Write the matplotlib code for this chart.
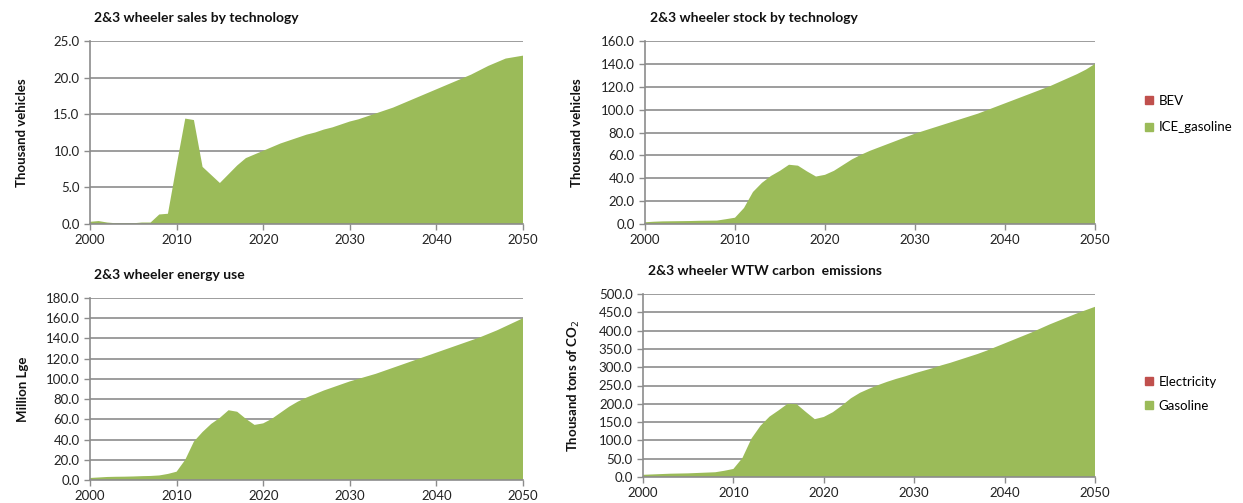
import matplotlib
matplotlib.use("Agg")
from matplotlib import pyplot as plt
from matplotlib.patches import Patch

years = list(range(2000, 2051))

sales_ice = [0.3, 0.4, 0.2, 0.1, 0.1, 0.1, 0.2, 0.2, 1.3, 1.4,
             8.0, 14.4, 14.2, 7.8, 6.7, 5.6, 6.8, 8.0, 9.0, 9.5,
             10.0, 10.5, 11.0, 11.4, 11.8, 12.2, 12.5, 12.9, 13.2, 13.6,
             14.0, 14.3, 14.7, 15.1, 15.5, 15.9, 16.4, 16.9, 17.4, 17.9,
             18.4, 18.9, 19.4, 19.9, 20.4, 21.0, 21.6, 22.1, 22.6, 22.8,
             23.0]
sales_bev = [0.0] * len(years)

stock_ice = [1.5, 2.0, 2.3, 2.4, 2.5, 2.6, 2.8, 2.9, 3.0, 4.2,
             5.5, 14.0, 28.0, 36.0, 42.0, 46.5, 51.8, 51.0, 46.0, 41.5,
             43.0, 46.5, 51.5, 56.5, 60.5, 64.0, 67.0, 70.0, 73.0, 76.0,
             79.0, 81.5, 84.0, 86.5, 89.0, 91.5, 94.0, 96.5, 99.5, 102.5,
             105.5, 108.5, 111.5, 114.5, 117.5, 120.5, 124.0, 127.5, 131.0, 135.0,
             140.0]
stock_bev = [0.0] * len(years)

energy_gasoline = [2.0, 2.5, 3.0, 3.2, 3.3, 3.5, 3.8, 4.0, 4.5, 6.0,
                   8.2, 20.0, 38.0, 47.5, 55.5, 61.5, 69.0, 67.5, 60.5, 54.5,
                   56.0, 60.5, 66.5, 72.5, 77.5, 81.5, 85.0, 88.5, 91.5, 94.5,
                   97.5, 100.0, 102.5, 105.0, 108.0, 111.0, 114.0, 117.0, 120.0, 123.0,
                   126.0, 129.0, 132.0, 135.0, 138.0, 141.0, 144.5, 148.0, 152.0, 156.0,
                   160.0]
energy_electricity = [0.0] * len(years)

co2_gasoline = [6, 7, 8, 9, 9.5, 10, 11, 12, 13, 17,
                22, 52, 105, 140, 165, 182, 200, 199, 178, 158,
                164, 177, 195, 215, 230, 241, 251, 260, 268, 275,
                283, 290, 297, 305, 312, 320, 328, 336, 345, 355,
                365, 375, 385, 395, 406, 417, 427, 437, 447, 456,
                465]
co2_electricity = [0.0] * len(years)

GREEN = "#9BBB59"
RED = "#C0504D"
GRID = "#8C8C8C"

plt.rcParams["font.family"] = ["Lato", "DejaVu Sans"]

W, H = 1243, 503
fig = plt.figure(figsize=(W / 100, H / 100), dpi=100)


def px_axes(x0, x1, y0, y1):
    # axes box given in pixel coordinates (top-left origin)
    return fig.add_axes([x0 / W, 1 - y1 / H, (x1 - x0) / W, (y1 - y0) / H])


def area_panel(ax, title, green, red, ymax, ystep, ylabel, pad=14):
    ax.stackplot(years, green, red, colors=[GREEN, RED], linewidth=0)
    ax.set_xlim(2000, 2050)
    ax.set_ylim(0, ymax)
    yt = [i * ystep for i in range(int(round(ymax / ystep)) + 1)]
    ax.set_yticks(yt)
    ax.set_yticklabels([f"{v:.1f}" for v in yt])
    ax.set_xticks(range(2000, 2051, 10))
    ax.grid(axis="y", color=GRID, linewidth=1.2)
    ax.set_axisbelow(True)
    for s in ("top", "right"):
        ax.spines[s].set_visible(False)
    for s in ("left", "bottom"):
        ax.spines[s].set_color(GRID)
        ax.spines[s].set_linewidth(1.2)
    ax.tick_params(axis="both", colors=GRID, labelcolor="#222222",
                   labelsize=9.5, length=4, width=1.0)
    ax.set_title(title, loc="left", fontsize=10, fontweight="bold",
                 color="#111111", pad=14, x=0.01)
    ax.set_ylabel(ylabel, fontsize=9.5, fontweight="bold", color="#111111",
                  labelpad=pad)


ax1 = px_axes(90, 523, 41, 224)
area_panel(ax1, "2&3 wheeler sales by technology", sales_ice, sales_bev,
           25, 5, "Thousand vehicles", pad=18)

ax2 = px_axes(645, 1095, 41, 224)
area_panel(ax2, "2&3 wheeler stock by technology", stock_ice, stock_bev,
           160, 20, "Thousand vehicles", pad=13)
ax2.legend(handles=[Patch(color=RED, label="BEV"),
                    Patch(color=GREEN, label="ICE_gasoline")],
           loc="center left", bbox_to_anchor=(1.085, 0.6), frameon=False,
           fontsize=9.5, handlelength=0.6, handleheight=0.6,
           handletextpad=0.4, labelspacing=1.1)

ax3 = px_axes(90, 523, 298, 480)
area_panel(ax3, "2&3 wheeler energy use", energy_gasoline, energy_electricity,
           180, 20, "Million Lge", pad=12)

ax4 = px_axes(643, 1095, 294, 477)
area_panel(ax4, "2&3 wheeler WTW carbon  emissions", co2_gasoline,
           co2_electricity, 500, 50, "Thousand tons of CO$_2$", pad=12)
ax4.legend(handles=[Patch(color=RED, label="Electricity"),
                    Patch(color=GREEN, label="Gasoline")],
           loc="center left", bbox_to_anchor=(1.085, 0.455), frameon=False,
           fontsize=9.5, handlelength=0.6, handleheight=0.6,
           handletextpad=0.4, labelspacing=0.9)

fig.savefig("out.png", dpi=100)
plt.close(fig)
